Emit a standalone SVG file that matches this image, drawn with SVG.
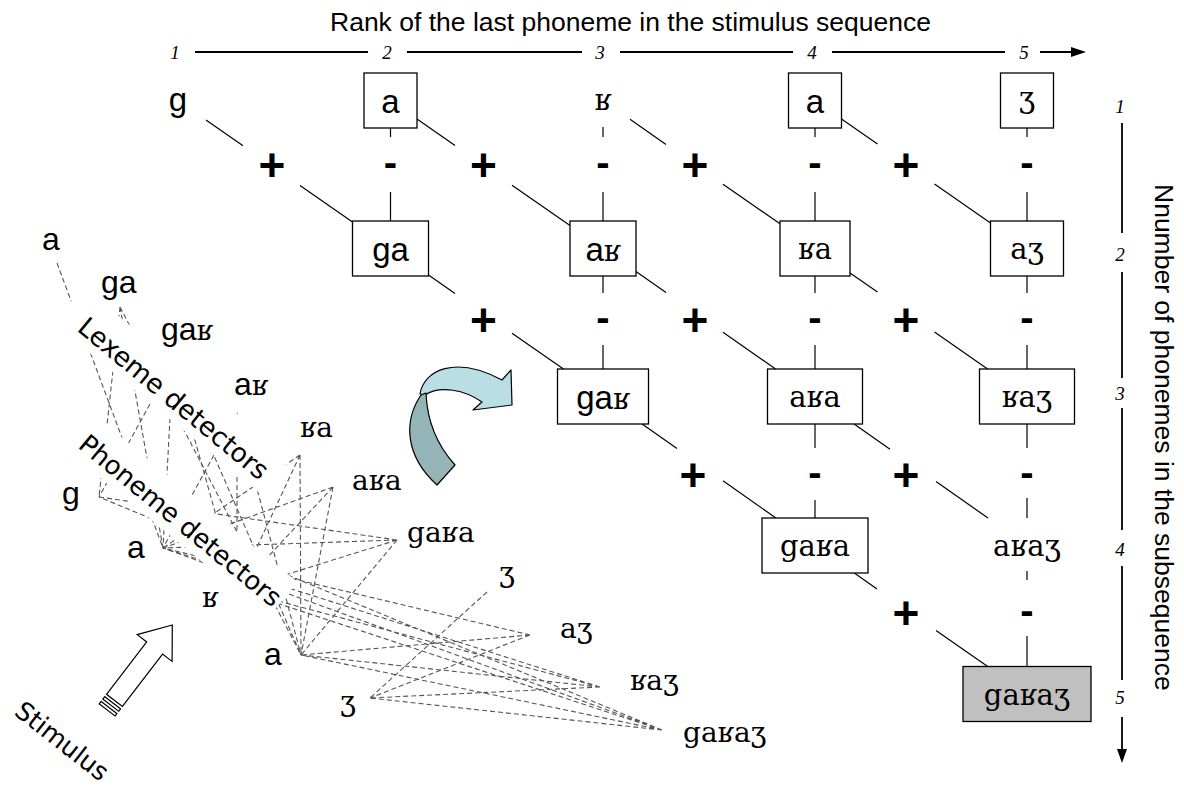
<svg xmlns="http://www.w3.org/2000/svg" width="1184" height="795" viewBox="0 0 1184 795">
<defs>
<style>
.box{fill:#fff;stroke:#000;stroke-width:1.3}
.grey{fill:#c0c0c0;stroke:#000;stroke-width:1.3}
.ln{stroke:#000;stroke-width:1.2;fill:none}
.axl{stroke:#000;stroke-width:1.8;fill:none}
.dash{stroke:#555;stroke-width:1.1;stroke-dasharray:5 3;fill:none}
.num{font-family:"Liberation Serif",serif;font-style:italic;font-size:19px;text-anchor:middle}
.gs{font-family:"Liberation Sans",Arial,sans-serif;font-size:33px;text-anchor:middle}
.gi{font-family:"DejaVu Serif",serif;font-size:29px;text-anchor:middle}
.sr{font-family:"DejaVu Serif",serif}
.sp{font-family:"Liberation Sans",Arial,sans-serif;font-weight:bold;font-size:46px;text-anchor:middle}
.sm{font-family:"Liberation Sans",Arial,sans-serif;font-weight:bold;font-size:40px;text-anchor:middle}
.rot{font-family:"DejaVu Sans",sans-serif}
.ls{font-family:"Liberation Sans",Arial,sans-serif;font-size:32px}
.li{font-family:"DejaVu Serif",serif;font-size:28px}
.ax{font-family:"Liberation Sans",Arial,sans-serif;font-size:26.5px}
</style>
</defs>
<rect width="1184" height="795" fill="#fff"/>

<g id="top-axis">
<text class="ax" x="330" y="31">Rank of the last phoneme in the stimulus sequence</text>
<text class="num" x="175" y="58.5">1</text>
<text class="num" x="387" y="58.5">2</text>
<text class="num" x="600" y="58.5">3</text>
<text class="num" x="812" y="58.5">4</text>
<text class="num" x="1024" y="58.5">5</text>
<path class="axl" d="M195,52H368M407,52H582M620,52H793M832,52H1005M1040,52H1074"/>
<polygon points="1071,47 1086,52 1071,57" fill="#000"/>
</g>
<g id="right-axis">
<text class="num" x="1120" y="113">1</text>
<text class="num" x="1120" y="261">2</text>
<text class="num" x="1120" y="400">3</text>
<text class="num" x="1120" y="556">4</text>
<text class="num" x="1120" y="704">5</text>
<path class="axl" d="M1122,123V233M1122,272V378M1122,408V530M1122,566V680M1122,717V751"/>
<polygon points="1117,749 1127,749 1122,763" fill="#000"/>
<text class="ax" transform="translate(1155,184) rotate(90)">Nnumber of phonemes in the subsequence</text>
</g>

<g id="connectors">
<path class="ln" d="M206,120L243,145.8M300,185.5L352.5,222"/>
<path class="ln" d="M417,119L455,145.5M512,185.2L570,225.5"/>
<path class="ln" d="M630,119.3L666,144.4M723,184.2L780,223.8"/>
<path class="ln" d="M841.5,119L877.5,144.1M934.5,183.9L990.5,223"/>
<path class="ln" d="M428.5,275L455,293.5M512,333.2L563.5,369"/>
<path class="ln" d="M636,271.5L666,292.4M723,332.3L775.6,369"/>
<path class="ln" d="M850,272.9L877.5,292.1M934.5,331.9L987.6,369"/>
<path class="ln" d="M642.1,424L677,448.5M723,480.8L775.9,518"/>
<path class="ln" d="M854.1,424L890,449.3M936,481.6L988,518"/>
<path class="ln" d="M854.3,573L877,589M936,630.6L987.7,666.5"/>
<path class="ln" d="M390.5,128V137M390.5,192V221M603,127V137M603,192V221M815,128V137M815,192V221M1027,128V137M1027,192V221"/>
<path class="ln" d="M603,276V293M603,345V369M815,276V293M815,345V369M1027,276V293M1027,345V369"/>
<path class="ln" d="M815,424V448M815,500V518M1027,424V448M1027,498V518"/>
<path class="ln" d="M1027,571V580M1027,636V666.5"/>
</g>

<g id="signs">
<text class="sp" x="272" y="181">+</text>
<text class="sp" x="483.5" y="181">+</text>
<text class="sp" x="695" y="181">+</text>
<text class="sp" x="906" y="181">+</text>
<text class="sp" x="483.5" y="336">+</text>
<text class="sp" x="695" y="336">+</text>
<text class="sp" x="906" y="336">+</text>
<text class="sp" x="693" y="491">+</text>
<text class="sp" x="906" y="491">+</text>
<text class="sp" x="906" y="629">+</text>
<text class="sm" x="390.5" y="176">-</text>
<text class="sm" x="603" y="176">-</text>
<text class="sm" x="815" y="176">-</text>
<text class="sm" x="1027" y="176">-</text>
<text class="sm" x="603" y="331">-</text>
<text class="sm" x="815" y="331">-</text>
<text class="sm" x="1027" y="331">-</text>
<text class="sm" x="815" y="486">-</text>
<text class="sm" x="1027" y="486">-</text>
<text class="sm" x="1027" y="624">-</text>
</g>

<g id="n-g"><text class="gs" x="178" y="111">g</text></g>
<g id="n-a-2"><rect class="box" x="364" y="73" width="53" height="55"/><text class="gs" x="390.5" y="113">a</text></g>
<g id="n-r-3"><text class="gi" x="603" y="110">ʁ</text></g>
<g id="n-a-4"><rect class="box" x="788.5" y="73" width="53" height="55"/><text class="gs" x="815" y="113">a</text></g>
<g id="n-zh-5"><rect class="box" x="1000.5" y="73" width="53" height="55"/><text class="gi" x="1027" y="108">ʒ</text></g>
<g id="n-ga"><rect class="box" x="352.5" y="221" width="76" height="55"/><text class="gs" x="390.5" y="261">ga</text></g>
<g id="n-ar"><rect class="box" x="570" y="221" width="66" height="55"/><text class="gs" x="603" y="261">a<tspan class="sr" font-size="29">ʁ</tspan></text></g>
<g id="n-ra"><rect class="box" x="780" y="221" width="70" height="55"/><text class="gi" x="815" y="259">ʁa</text></g>
<g id="n-azh"><rect class="box" x="990.5" y="221" width="73" height="55"/><text class="gi" x="1027" y="259">aʒ</text></g>
<g id="n-gar"><rect class="box" x="557.5" y="369" width="91" height="55"/><text class="gs" x="603" y="409">ga<tspan class="sr" font-size="29">ʁ</tspan></text></g>
<g id="n-ara"><rect class="box" x="767.5" y="369" width="95" height="55"/><text class="gi" x="815" y="407">aʁa</text></g>
<g id="n-razh"><rect class="box" x="979.5" y="369" width="95" height="55"/><text class="gi" x="1027" y="407">ʁaʒ</text></g>
<g id="n-gara"><rect class="box" x="762" y="518" width="106" height="55"/><text class="gi" x="815" y="556">gaʁa</text></g>
<g id="n-arazh"><text class="gi" x="1027" y="556">aʁaʒ</text></g>
<g id="n-garazh"><rect class="grey" x="963" y="666.5" width="128" height="55"/><text class="gi" x="1027" y="705">gaʁaʒ</text></g>

<g id="detector-links" class="dash">
<path d="M57,263L163,548"/>
<path d="M120,307L99,497M120,307L163,548M120,307L301,655"/>
<path d="M173,362L99,497M173,362L163,548M173,362L301,655M173,362L237,590"/>
<path d="M237,413L163,548M237,413L301,655M237,413L237,590"/>
<path d="M300,455L237,590M300,455L163,548M300,455L301,655"/>
<path d="M333,487L163,548M333,487L301,655M333,487L237,590"/>
<path d="M397,540L99,497M397,540L163,548M397,540L301,655M397,540L237,590"/>
<path d="M487,592L370,698"/>
<path d="M530,635L163,548M530,635L301,655M530,635L370,698"/>
<path d="M600,687L237,590M600,687L163,548M600,687L301,655M600,687L370,698"/>
<path d="M662,730L99,497M662,730L163,548M662,730L301,655M662,730L237,590M662,730L370,698"/>
</g>

<g id="lexeme-label" transform="translate(76,330) rotate(39.5)">
<rect x="-22" y="-38" width="270" height="47" fill="#fff"/>
<text class="rot" font-size="26.5" x="0" y="0">Lexeme detectors</text>
</g>
<g id="phoneme-label" transform="translate(77,447) rotate(39.5)">
<rect x="-22" y="-36" width="278" height="45" fill="#fff"/>
<text class="rot" font-size="26" x="0" y="0">Phoneme detectors</text>
</g>

<g id="lx-a"><text class="ls" x="42" y="250">a</text></g>
<g id="lx-ga"><text class="ls" x="101" y="293">ga</text></g>
<g id="lx-gar"><text class="ls" x="161" y="340">ga<tspan class="sr" font-size="28">ʁ</tspan></text></g>
<g id="lx-ar"><text class="ls" x="234" y="395">a<tspan class="sr" font-size="28">ʁ</tspan></text></g>
<g id="lx-ra"><text class="li" x="300" y="437">ʁa</text></g>
<g id="lx-ara"><text class="li" x="352" y="490">aʁa</text></g>
<g id="lx-gara"><text class="li" x="407" y="542">gaʁa</text></g>
<g id="lx-zh"><text class="li" x="499" y="582">ʒ</text></g>
<g id="lx-azh"><text class="li" x="560" y="638">aʒ</text></g>
<g id="lx-razh"><text class="li" x="630" y="690">ʁaʒ</text></g>
<g id="lx-garazh"><text class="li" x="683" y="742">gaʁaʒ</text></g>

<g id="ph-g"><text class="ls" x="62" y="504">g</text></g>
<g id="ph-a1"><text class="ls" x="127" y="558">a</text></g>
<g id="ph-r"><text class="li" x="202" y="607">ʁ</text></g>
<g id="ph-a2"><text class="ls" x="264" y="665">a</text></g>
<g id="ph-zh"><text class="li" x="340" y="711">ʒ</text></g>

<g id="curved-arrow" stroke="#000" stroke-width="1.2" stroke-linejoin="round">
<path d="M420,394 C424,370 455,355 502,380 L511,370 L512,405 L473,410 L482,402 C465,390 440,385 425,395 Z" fill="#b9dfe4"/>
<path d="M421,395 C404,420 404,455 437,485 L455,465 C437,445 427,420 426,393 Z" fill="#95b4b8"/>
</g>

<g id="stimulus-arrow" transform="translate(172.3,625) rotate(-52.5)" fill="#fff" stroke="#000" stroke-width="1.2">
<polygon points="0,0 -29,-22 -29,-10 -95,-10 -95,10 -29,10 -29,22"/>
<rect x="-101" y="-10" width="3" height="20"/>
<rect x="-107" y="-10" width="3" height="20"/>
</g>
<g id="stimulus-label"><text class="rot" font-size="25.5" transform="translate(13,714) rotate(38)">Stimulus</text></g>
</svg>
